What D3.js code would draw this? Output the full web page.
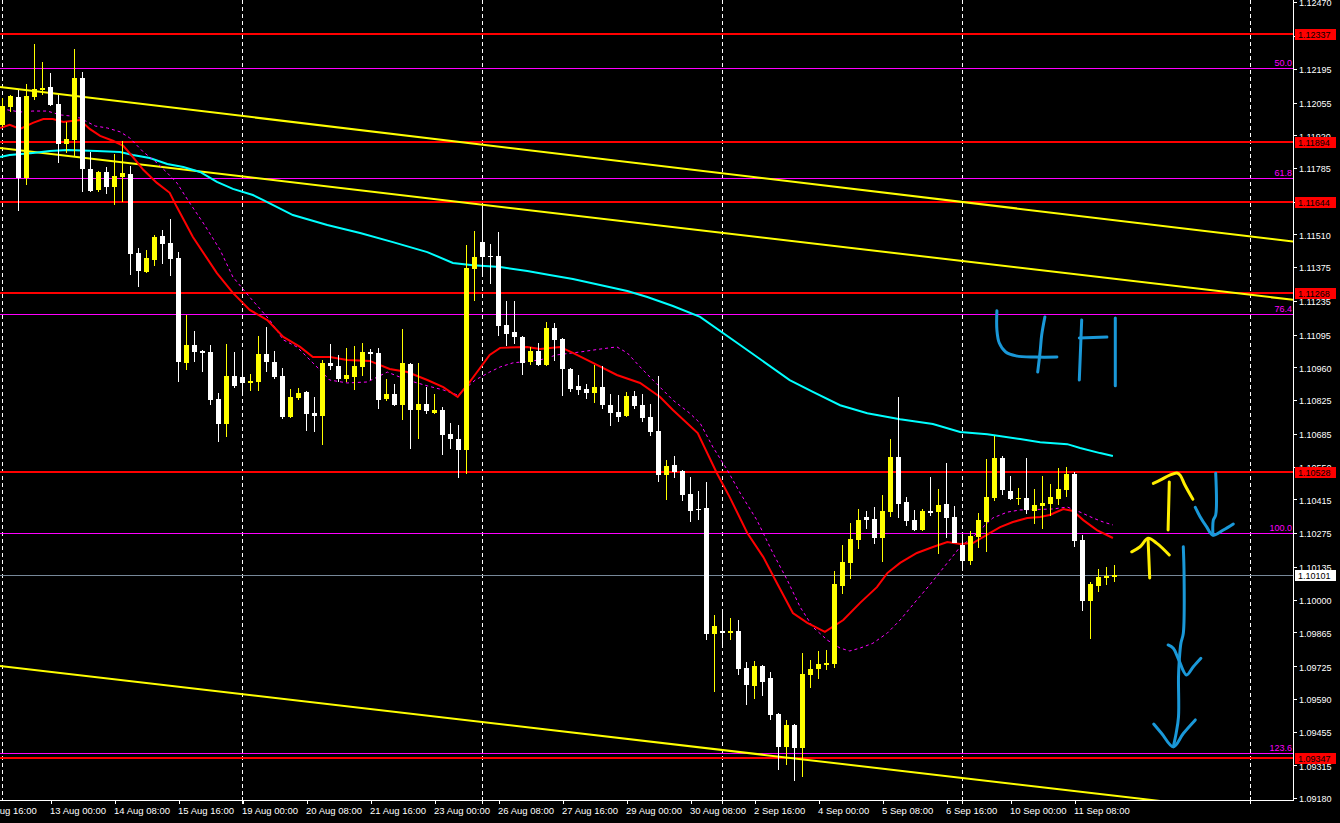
<!DOCTYPE html>
<html><head><meta charset="utf-8">
<script src="https://cdn.jsdelivr.net/npm/d3@7"></script>
<style>
body{margin:0;background:#000;overflow:hidden}
svg{display:block}
text{font-family:"Liberation Sans",Arial,sans-serif;font-size:9px}
</style>
</head><body>
<svg id="c" width="1340" height="823"></svg>
<script>
// ---------- DATA ----------
const opens=[1.11963,1.12037,1.12078,1.11744,1.12078,1.12107,1.12119,1.12049,1.11884,1.11901,1.12157,1.11781,1.11694,1.11768,1.11706,1.11748,1.11760,1.11433,1.11354,1.11404,1.11503,1.11474,1.11412,1.10979,1.11053,1.11028,1.11024,1.10830,1.10726,1.10925,1.10921,1.10896,1.10900,1.11016,1.10983,1.10925,1.10755,1.10834,1.10859,1.10771,1.10759,1.10979,1.10966,1.10912,1.10921,1.10962,1.11024,1.11020,1.10830,1.10850,1.10804,1.10974,1.10784,1.10808,1.10771,1.10784,1.10684,1.10664,1.10618,1.11367,1.11478,1.11421,1.11421,1.11136,1.11107,1.11086,1.10983,1.11028,1.10970,1.11123,1.11078,1.10954,1.10884,1.10871,1.10855,1.10879,1.10804,1.10775,1.10759,1.10842,1.10804,1.10755,1.10697,1.10515,1.10556,1.10532,1.10436,1.10375,1.10379,1.09858,1.09871,1.09863,1.09871,1.09718,1.09644,1.09726,1.09677,1.09527,1.09391,1.09482,1.09387,1.09689,1.09714,1.09730,1.09734,1.10057,1.10152,1.10247,1.10342,1.10333,1.10255,1.10362,1.10589,1.10404,1.10329,1.10288,1.10367,1.10362,1.10395,1.10342,1.10226,1.10160,1.10259,1.10321,1.10420,1.10585,1.10449,1.10416,1.10420,1.10367,1.10387,1.10395,1.10416,1.10453,1.10519,1.10247,1.09995,1.10057,1.10090,1.10094];
const highs=[1.12074,1.12086,1.12107,1.12132,1.12297,1.12223,1.12177,1.12086,1.11975,1.12276,1.12181,1.11851,1.11772,1.11789,1.11843,1.11897,1.11793,1.11454,1.11445,1.11507,1.11528,1.11573,1.11437,1.11177,1.11111,1.11032,1.11053,1.10855,1.11057,1.11024,1.11016,1.10933,1.11090,1.11127,1.11028,1.10958,1.10871,1.10875,1.10863,1.10838,1.10991,1.11057,1.11012,1.11041,1.11049,1.11061,1.11036,1.11041,1.10912,1.10892,1.11119,1.10979,1.10979,1.10879,1.10850,1.10796,1.10730,1.10722,1.11466,1.11524,1.11627,1.11470,1.11520,1.11235,1.11235,1.11090,1.11045,1.11061,1.11148,1.11144,1.11082,1.10958,1.10929,1.10892,1.10970,1.10966,1.10850,1.10846,1.10859,1.10863,1.10850,1.10808,1.10925,1.10577,1.10594,1.10536,1.10507,1.10449,1.10486,1.09937,1.09957,1.09925,1.09916,1.09743,1.09747,1.09730,1.09701,1.09531,1.09503,1.09486,1.09780,1.09751,1.09788,1.09792,1.10119,1.10226,1.10317,1.10375,1.10367,1.10383,1.10432,1.10664,1.10838,1.10424,1.10371,1.10375,1.10507,1.10457,1.10565,1.10387,1.10267,1.10284,1.10358,1.10581,1.10676,1.10594,1.10511,1.10462,1.10585,1.10457,1.10511,1.10478,1.10544,1.10548,1.10527,1.10267,1.10073,1.10127,1.10135,1.10143];
const lows=[1.11954,1.12016,1.11607,1.11715,1.12066,1.12086,1.12041,1.11806,1.11847,1.11830,1.11686,1.11686,1.11686,1.11677,1.11631,1.11644,1.11342,1.11292,1.11350,1.11379,1.11387,1.11338,1.10900,1.10950,1.10983,1.10941,1.10804,1.10651,1.10672,1.10875,1.10855,1.10863,1.10863,1.10941,1.10912,1.10746,1.10750,1.10825,1.10697,1.10693,1.10639,1.10950,1.10900,1.10900,1.10867,1.10925,1.10908,1.10788,1.10821,1.10800,1.10742,1.10622,1.10664,1.10767,1.10767,1.10598,1.10622,1.10503,1.10519,1.11235,1.11346,1.11305,1.11090,1.11049,1.11057,1.10929,1.10970,1.10966,1.10966,1.10987,1.10842,1.10859,1.10846,1.10830,1.10813,1.10788,1.10718,1.10734,1.10755,1.10788,1.10734,1.10676,1.10486,1.10412,1.10503,1.10408,1.10321,1.10329,1.09833,1.09618,1.09809,1.09833,1.09689,1.09564,1.09590,1.09602,1.09503,1.09296,1.09316,1.09250,1.09267,1.09635,1.09672,1.09709,1.09718,1.10023,1.10085,1.10209,1.10292,1.10230,1.10156,1.10342,1.10338,1.10305,1.10284,1.10284,1.10346,1.10189,1.10255,1.10234,1.10135,1.10143,1.10213,1.10197,1.10408,1.10432,1.10412,1.10391,1.10354,1.10313,1.10292,1.10346,1.10391,1.10424,1.10218,1.09954,1.09838,1.10031,1.10061,1.10073];
const closes=[1.12041,1.12082,1.11744,1.12082,1.12111,1.12115,1.12045,1.11884,1.11905,1.12157,1.11781,1.11690,1.11768,1.11706,1.11752,1.11764,1.11429,1.11359,1.11412,1.11499,1.11470,1.11408,1.10983,1.11053,1.11024,1.11020,1.10825,1.10726,1.10925,1.10884,1.10896,1.10904,1.11016,1.10983,1.10921,1.10755,1.10838,1.10855,1.10767,1.10759,1.10979,1.10966,1.10912,1.10929,1.10966,1.11024,1.11016,1.10825,1.10850,1.10804,1.10979,1.10784,1.10808,1.10780,1.10784,1.10680,1.10664,1.10618,1.11371,1.11416,1.11416,1.11416,1.11132,1.11098,1.11086,1.10979,1.11028,1.10970,1.11123,1.11074,1.10954,1.10871,1.10867,1.10855,1.10879,1.10804,1.10771,1.10755,1.10842,1.10800,1.10751,1.10693,1.10515,1.10552,1.10527,1.10432,1.10367,1.10371,1.09858,1.09892,1.09863,1.09871,1.09714,1.09648,1.09726,1.09660,1.09523,1.09391,1.09482,1.09387,1.09693,1.09714,1.09734,1.09738,1.10065,1.10156,1.10251,1.10329,1.10329,1.10255,1.10367,1.10589,1.10395,1.10325,1.10288,1.10367,1.10358,1.10391,1.10338,1.10234,1.10160,1.10263,1.10329,1.10424,1.10585,1.10453,1.10416,1.10420,1.10371,1.10391,1.10400,1.10424,1.10457,1.10519,1.10243,1.09995,1.10065,1.10094,1.10098,1.10101];

const priceTicks=[1.12470,1.12330,1.12195,1.12055,1.11920,1.11785,1.11645,1.11510,1.11375,1.11235,1.11095,1.10960,1.10825,1.10685,1.10550,1.10415,1.10275,1.10135,1.10000,1.09865,1.09725,1.09590,1.09455,1.09315,1.09180];
const timeLabels=["9 Aug 16:00","13 Aug 00:00","14 Aug 08:00","15 Aug 16:00","19 Aug 00:00","20 Aug 08:00","21 Aug 16:00","23 Aug 00:00","26 Aug 08:00","27 Aug 16:00","29 Aug 00:00","30 Aug 08:00","2 Sep 16:00","4 Sep 00:00","5 Sep 08:00","6 Sep 16:00","10 Sep 00:00","11 Sep 08:00"];
const timeTickBars=[-2,6,14,22,30,38,46,54,62,70,78,86,94,102,110,118,126,134];
const gridBars=[0,30,60,90,120,156];

const levelPrices=[1.12337,1.11894,1.11644,1.11268,1.10528,1.09347];
const fibLabels=["50.0","61.8","76.4","100.0","123.6"];
const fibPrices=[1.12197,1.11743,1.11182,1.10275,1.09368];
const bidPrice=1.10101;

// trendlines: [bar1, price1, bar2, price2] (rays to the right)
const trendlines=[[0,1.12118,120,1.11644],[0,1.11866,120,1.11400],[0,1.09725,120,1.09263]];

const maRedBars=[-0.3,0.9,2.2,3.8,5.1,6.3,7.6,9.7,10.9,12.2,13.8,15.1,16.3,17.6,19.3,20.9,21.8,23.8,26.8,28.8,30.9,33.1,35.1,37.2,38.8,40.9,43.1,45.9,48.4,50.6,53.1,55.1,56.9,58.4,60.9,62.2,65.6,67.2,69.7,71.3,73.8,76.8,79.7,82.2,83.8,86.9,89.3,90.9,93.1,95.1,96.8,98.8,100.6,102.8,105.1,107.2,109.3,110.6,112.2,114.3,116.3,118.1,119.7,121.3,123.4,124.7,126.3,128.1,129.7,130.9,132.6,133.8,135.1,136.8,138.8];
const maRed=[1.11950,1.11963,1.11946,1.11971,1.11987,1.11987,1.11975,1.11983,1.11946,1.11917,1.11897,1.11876,1.11830,1.11777,1.11723,1.11682,1.11623,1.11499,1.11350,1.11268,1.11198,1.11156,1.11086,1.11045,1.11003,1.11003,1.10991,1.10987,1.10954,1.10941,1.10908,1.10879,1.10838,1.10900,1.11012,1.11041,1.11045,1.11036,1.11045,1.11020,1.10979,1.10929,1.10896,1.10838,1.10784,1.10689,1.10523,1.10424,1.10276,1.10176,1.10069,1.09945,1.09904,1.09867,1.09916,1.09987,1.10052,1.10110,1.10152,1.10193,1.10218,1.10238,1.10230,1.10234,1.10275,1.10300,1.10321,1.10338,1.10342,1.10350,1.10375,1.10367,1.10329,1.10288,1.10255];

const maCyanBars=[-0.3,0.9,3.8,5.9,8.1,11.8,14.7,16.3,18.4,20.6,22.6,24.7,26.8,28.8,31.3,32.6,36.3,40.6,44.7,48.8,53.1,56.3,58.8,62.2,65.6,68.4,71.3,74.7,78.1,80.6,83.8,87.2,92.2,98.4,101.3,104.7,108.1,112.2,116.3,119.7,123.1,127.2,129.7,133.1,134.7,137.2,138.8];
const maCyan=[1.11830,1.11838,1.11847,1.11855,1.11859,1.11855,1.11851,1.11838,1.11826,1.11801,1.11789,1.11768,1.11727,1.11698,1.11673,1.11652,1.11590,1.11549,1.11516,1.11478,1.11437,1.11392,1.11383,1.11375,1.11359,1.11342,1.11326,1.11301,1.11276,1.11251,1.11214,1.11169,1.11053,1.10908,1.10859,1.10804,1.10771,1.10746,1.10726,1.10693,1.10684,1.10664,1.10651,1.10643,1.10627,1.10606,1.10594];

const maMagBars=[0.6,2.2,3.8,5.6,7.2,8.4,9.7,10.6,11.6,13.1,14.7,15.9,17.6,19.3,20.6,21.8,23.4,25.1,27.2,28.8,30.9,33.4,35.1,36.8,38.8,40.9,43.1,45.6,48.1,50.6,53.1,55.1,56.9,59.1,60.9,62.2,63.8,67.2,69.3,72.2,74.7,76.8,78.1,79.7,81.3,83.8,85.9,87.2,88.8,90.6,92.2,94.3,96.3,98.1,99.7,101.3,103.1,104.7,105.9,107.2,108.8,110.6,112.2,114.3,115.9,117.2,118.4,119.7,121.3,123.1,123.8,125.6,127.2,131.3,133.1,134.7,136.3,137.6,138.8];
const maMag=[1.12025,1.12016,1.12020,1.12020,1.12004,1.12000,1.11991,1.11975,1.11958,1.11950,1.11934,1.11909,1.11851,1.11806,1.11764,1.11723,1.11640,1.11557,1.11446,1.11334,1.11251,1.11156,1.11074,1.11045,1.10979,1.10908,1.10896,1.10900,1.10941,1.10908,1.10884,1.10867,1.10846,1.10908,1.10941,1.10962,1.10979,1.10991,1.11012,1.11024,1.11036,1.11045,1.11020,1.10962,1.10908,1.10825,1.10771,1.10730,1.10631,1.10536,1.10441,1.10329,1.10193,1.10081,1.09970,1.09887,1.09833,1.09800,1.09788,1.09800,1.09820,1.09862,1.09916,1.09999,1.10061,1.10115,1.10164,1.10218,1.10259,1.10317,1.10338,1.10362,1.10371,1.10375,1.10383,1.10362,1.10338,1.10321,1.10309];

// hand-drawn annotations in (bar, price)
const blueInk="#1a98d8", yellowInk="#ffee00";
const annotations=[
 {c:yellowInk,p:[[145.7,1.10288],[145.85,1.10487]]},
 {c:yellowInk,p:[[143.85,1.10481],[144.7,1.10494],[145.9,1.10515],[146.8,1.10524],[147.2,1.10515],[147.8,1.10474],[148.8,1.10415]]},
 {c:yellowInk,p:[[143.4,1.10090],[143.2,1.10247]]},
 {c:yellowInk,p:[[141.15,1.10198],[142.2,1.10219],[143.2,1.10254],[144.3,1.10233],[145.85,1.10185]]},
 {c:blueInk,p:[[151.65,1.10523],[151.65,1.10350],[151.35,1.10329],[151.3,1.10267]]},
 {c:blueInk,p:[[149.1,1.10382],[149.7,1.10343],[150.5,1.10302],[151.3,1.10267],[152.6,1.10288],[153.85,1.10313]]},
 {c:blueInk,p:[[147.6,1.10219],[147.7,1.10096],[147.6,1.09861],[147.3,1.09820],[147.1,1.09751],[147.0,1.09681],[147.0,1.09516],[146.7,1.09447],[146.35,1.09392]]},
 {c:blueInk,p:[[145.7,1.09813],[146.35,1.09799],[146.95,1.09758],[148.0,1.09689],[148.85,1.09723],[149.8,1.09758]]},
 {c:blueInk,p:[[143.9,1.09486],[144.9,1.09447],[146.35,1.09392],[147.6,1.09447],[149.1,1.09503]]},
 {c:blueInk,p:[[124.3,1.11194],[124.3,1.11115],[124.6,1.11061],[125.4,1.11024],[126.7,1.11008],[129.1,1.11003],[131.8,1.11003]]},
 {c:blueInk,p:[[130.3,1.11169],[129.9,1.11094],[129.7,1.11024],[129.4,1.10941]]},
 {c:blueInk,p:[[134.9,1.11156],[134.8,1.11074],[134.6,1.10908]]},
 {c:blueInk,p:[[134.6,1.11082],[138.05,1.11086]]},
 {c:blueInk,p:[[139.1,1.11164],[139.1,1.10884]]}
];

// ---------- CHART ----------
const W=1340,H=823,PW=1293,PH=800;
const FONT="'Liberation Sans',Arial,sans-serif";
const svg=d3.select("#c");
svg.append("rect").attr("width",W).attr("height",H).attr("fill","#000");
const x=d3.scaleLinear().domain([0,160]).range([2.5,2.5+8*160]);
const y=d3.scaleLinear().domain([1.09172,1.12479]).range([PH,0]);

svg.append("defs").append("clipPath").attr("id","plot").append("rect").attr("x",0).attr("y",0).attr("width",PW).attr("height",PH);
const g=svg.append("g").attr("clip-path","url(#plot)");

// grid
g.selectAll(".grid").data(gridBars).enter().append("line")
 .attr("x1",d=>Math.floor(x(d))+0.5).attr("x2",d=>Math.floor(x(d))+0.5).attr("y1",0).attr("y2",PH)
 .attr("stroke","#fff").attr("stroke-width",1).attr("stroke-dasharray","4,3").attr("shape-rendering","crispEdges");

// fib lines
g.selectAll(".fib").data(fibPrices).enter().append("line")
 .attr("x1",0).attr("x2",PW).attr("y1",d=>Math.round(y(d))+0.5).attr("y2",d=>Math.round(y(d))+0.5)
 .attr("stroke","#ff00ff").attr("stroke-width",1).attr("shape-rendering","crispEdges");
// bid line
g.append("line").attr("x1",0).attr("x2",PW).attr("y1",Math.round(y(bidPrice))+0.5).attr("y2",Math.round(y(bidPrice))+0.5)
 .attr("stroke","#778899").attr("stroke-width",1).attr("shape-rendering","crispEdges");
// red levels
g.selectAll(".lvl").data(levelPrices).enter().append("line")
 .attr("x1",0).attr("x2",PW).attr("y1",d=>Math.round(y(d))).attr("y2",d=>Math.round(y(d)))
 .attr("stroke","#ff0000").attr("stroke-width",2).attr("shape-rendering","crispEdges");

// trendlines (rays)
const tAt=(d,b)=>d[1]+(d[3]-d[1])/(d[2]-d[0])*(b-d[0]);
g.selectAll(".tl").data(trendlines).enter().append("line")
 .attr("x1",0).attr("y1",d=>y(tAt(d,x.invert(0))))
 .attr("x2",PW).attr("y2",d=>y(tAt(d,x.invert(PW))))
 .attr("stroke","#ffff00").attr("stroke-width",2);

// moving averages
const ln=d3.line().x(d=>x(d[0])).y(d=>y(d[1]));
g.append("path").attr("d",ln(maCyanBars.map((b,i)=>[b,maCyan[i]]))).attr("fill","none").attr("stroke","#00ffff").attr("stroke-width",2);
g.append("path").attr("d",ln(maMagBars.map((b,i)=>[b,maMag[i]]))).attr("fill","none").attr("stroke","#ff00ff").attr("stroke-width",1).attr("stroke-dasharray","3,3");
g.append("path").attr("d",ln(maRedBars.map((b,i)=>[b,maRed[i]]))).attr("fill","none").attr("stroke","#ff0000").attr("stroke-width",2);

// candles
const idx=d3.range(opens.length);
const col=i=>closes[i]>=opens[i]?"#ffff00":"#ffffff";
g.selectAll(".wick").data(idx).enter().append("rect")
 .attr("x",i=>Math.round(x(i)-0.5)).attr("width",1)
 .attr("y",i=>Math.round(y(highs[i]))).attr("height",i=>Math.max(1,Math.round(y(lows[i]))-Math.round(y(highs[i]))))
 .attr("fill",col).attr("shape-rendering","crispEdges");
g.selectAll(".body").data(idx).enter().append("rect")
 .attr("x",i=>Math.round(x(i)-2.5)).attr("width",5)
 .attr("y",i=>Math.round(y(Math.max(opens[i],closes[i]))))
 .attr("height",i=>Math.max(1,Math.round(y(Math.min(opens[i],closes[i])))-Math.round(y(Math.max(opens[i],closes[i])))))
 .attr("fill",col).attr("shape-rendering","crispEdges");

// annotations
const aln=d3.line().x(d=>x(d[0])).y(d=>y(d[1])).curve(d3.curveCatmullRom);
g.selectAll(".ann").data(annotations).enter().append("path")
 .attr("d",d=>aln(d.p)).attr("fill","none").attr("stroke",d=>d.c).attr("stroke-width",3)
 .attr("stroke-linecap","round").attr("stroke-linejoin","round");

// fib labels
svg.selectAll(".fibt").data(fibPrices).enter().append("text")
 .attr("x",PW-1).attr("y",d=>Math.round(y(d))-2).attr("text-anchor","end").attr("fill","#ff00ff")
 .text((d,i)=>fibLabels[i]);

// price axis
const ay=svg.append("g").attr("transform",`translate(${PW},0)`)
 .call(d3.axisRight(y).tickValues(priceTicks).tickFormat(d3.format(".5f")).tickSize(4).tickPadding(2));
ay.select(".domain").remove();
ay.selectAll("line").attr("stroke","#fff").attr("shape-rendering","crispEdges");
ay.selectAll("text").attr("fill","#fff").attr("dy","0.42em").style("font-size","9px").style("font-family",FONT);

// time axis
const ax=svg.append("g").attr("transform",`translate(0,${PH})`)
 .call(d3.axisBottom(x).tickValues(timeTickBars).tickFormat((d,i)=>timeLabels[i]).tickSize(4).tickPadding(3));
ax.select(".domain").remove();
ax.selectAll("line").attr("stroke","#fff").attr("shape-rendering","crispEdges");
ax.selectAll("text").attr("fill","#fff").attr("text-anchor","start").attr("x",-1)
 .style("font-size","9.5px").style("font-family",FONT);
// tall ticks at grid separators
svg.selectAll(".sep").data(gridBars.slice(1)).enter().append("line")
 .attr("x1",d=>Math.floor(x(d))+0.5).attr("x2",d=>Math.floor(x(d))+0.5).attr("y1",PH-3).attr("y2",PH+4)
 .attr("stroke","#fff").attr("shape-rendering","crispEdges");

// frame lines
svg.append("line").attr("x1",0).attr("x2",PW+0.5).attr("y1",PH+0.5).attr("y2",PH+0.5).attr("stroke","#fff").attr("shape-rendering","crispEdges");
svg.append("line").attr("x1",PW+0.5).attr("x2",PW+0.5).attr("y1",0).attr("y2",PH+0.5).attr("stroke","#fff").attr("shape-rendering","crispEdges");

// level boxes on axis
const box=svg.selectAll(".lb").data(levelPrices).enter().append("g");
box.append("rect").attr("x",PW+2).attr("y",d=>Math.round(y(d))-5).attr("width",41).attr("height",11).attr("fill","#ff0000");
box.append("text").attr("x",PW+5).attr("y",d=>Math.round(y(d))+4).attr("fill","#000").text(d=>d.toFixed(5));
// bid box
svg.append("rect").attr("x",PW+2).attr("y",Math.round(y(bidPrice))-5).attr("width",41).attr("height",11).attr("fill","#fff");
svg.append("text").attr("x",PW+5).attr("y",Math.round(y(bidPrice))+4).attr("fill","#000").text(bidPrice.toFixed(5));
</script>
</body></html>
